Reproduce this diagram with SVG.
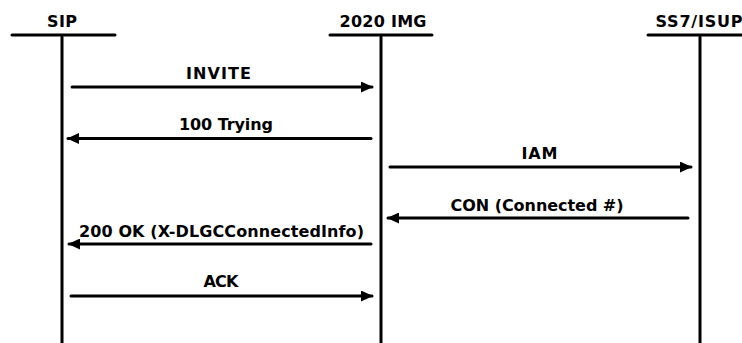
<svg xmlns="http://www.w3.org/2000/svg" width="742" height="343" viewBox="0 0 742 343">
<defs>
<style>
.t{font-family:"DejaVu Sans","Verdana",sans-serif;font-weight:bold;font-size:16px;fill:#000;text-anchor:middle}
.l{stroke:#000;stroke-width:3;fill:none;stroke-linecap:round}
.m{stroke:#000;stroke-width:3;fill:none;stroke-linecap:round}
</style>
<marker id="ah" viewBox="0 0 12 11" refX="11" refY="5.5" markerWidth="12" markerHeight="11" markerUnits="userSpaceOnUse" orient="auto">
<path d="M0,0 L12,5.5 L0,11 Z" fill="#000"/>
</marker>
</defs>
<rect width="742" height="343" fill="#fff"/>
<g id="sip">
<text class="t" x="62" y="27" textLength="30" lengthAdjust="spacing">SIP</text>
<line class="l" x1="12" y1="35" x2="115" y2="35"/>
<line class="l" x1="62" y1="37" x2="62" y2="345"/>
</g>
<g id="img">
<text class="t" x="383" y="27" textLength="87" lengthAdjust="spacing">2020 IMG</text>
<line class="l" x1="330" y1="35" x2="432" y2="35"/>
<line class="l" x1="381" y1="37" x2="381" y2="345"/>
</g>
<g id="ss7">
<text class="t" x="699" y="27" textLength="87" lengthAdjust="spacing">SS7/ISUP</text>
<line class="l" x1="648" y1="35" x2="745" y2="35"/>
<line class="l" x1="700" y1="37" x2="700" y2="345"/>
</g>
<g id="connectors">
<line class="m" x1="72" y1="87" x2="372" y2="87" marker-end="url(#ah)"/>
<text class="t" x="218.5" y="79" textLength="65" lengthAdjust="spacing">INVITE</text>
<line class="m" x1="371" y1="138.5" x2="68" y2="138.5" marker-end="url(#ah)"/>
<text class="t" x="226" y="130" textLength="94" lengthAdjust="spacing">100 Trying</text>
<line class="m" x1="390" y1="167" x2="691" y2="167" marker-end="url(#ah)"/>
<text class="t" x="539.5" y="159" textLength="36" lengthAdjust="spacing">IAM</text>
<line class="m" x1="688" y1="218" x2="388" y2="218" marker-end="url(#ah)"/>
<text class="t" x="537" y="211" textLength="173" lengthAdjust="spacing">CON (Connected #)</text>
<line class="m" x1="371" y1="244" x2="69" y2="244" marker-end="url(#ah)"/>
<text class="t" x="221.5" y="236.5" textLength="285" lengthAdjust="spacing">200 OK (X-DLGCConnectedInfo)</text>
<line class="m" x1="71" y1="296" x2="372" y2="296" marker-end="url(#ah)"/>
<text class="t" x="221" y="287" textLength="35" lengthAdjust="spacing">ACK</text>
</g>
</svg>
